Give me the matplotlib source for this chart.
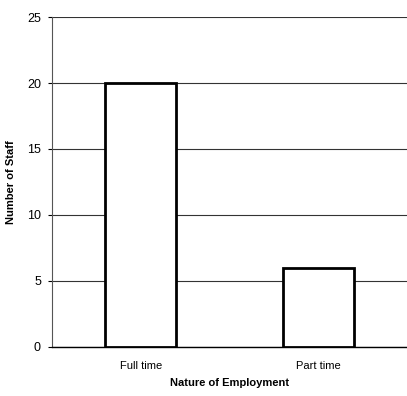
import matplotlib
matplotlib.use('Agg')
import matplotlib.pyplot as plt

categories = ['Full time', 'Part time']
staff = [20, 6]
y_ticks = [0, 5, 10, 15, 20, 25]

plt.rcParams['font.family'] = ['Liberation Sans', 'DejaVu Sans']

fig = plt.figure(figsize=(4.07, 3.96), dpi=100)
ax = fig.add_axes([0.128, 0.124, 0.872, 0.833])

x = range(len(categories))
ax.bar(x, staff, width=0.4, color='white', edgecolor='black', linewidth=2, zorder=3)

ax.set_xlim(-0.5, 1.5)
ax.set_ylim(0, 25)
ax.set_yticks(y_ticks)
ax.set_xticks(list(x))
ax.set_xticklabels(categories)
ax.tick_params(axis='y', labelsize=9, length=3, width=0.8, pad=5)
ax.tick_params(axis='x', labelsize=8, length=0, pad=10)

ax.yaxis.grid(True, color='#333333', linewidth=0.8, zorder=0)
ax.set_axisbelow(True)
for side in ['top', 'right']:
    ax.spines[side].set_visible(False)
ax.spines['left'].set_color('#555555')
ax.spines['left'].set_linewidth(0.8)
ax.spines['bottom'].set_linewidth(1.0)

ax.set_xlabel('Nature of Employment', fontsize=8, fontweight='bold', labelpad=5)
ax.set_ylabel('Number of Staff', fontsize=8, fontweight='bold', labelpad=8)

fig.savefig('out.png', dpi=100)
